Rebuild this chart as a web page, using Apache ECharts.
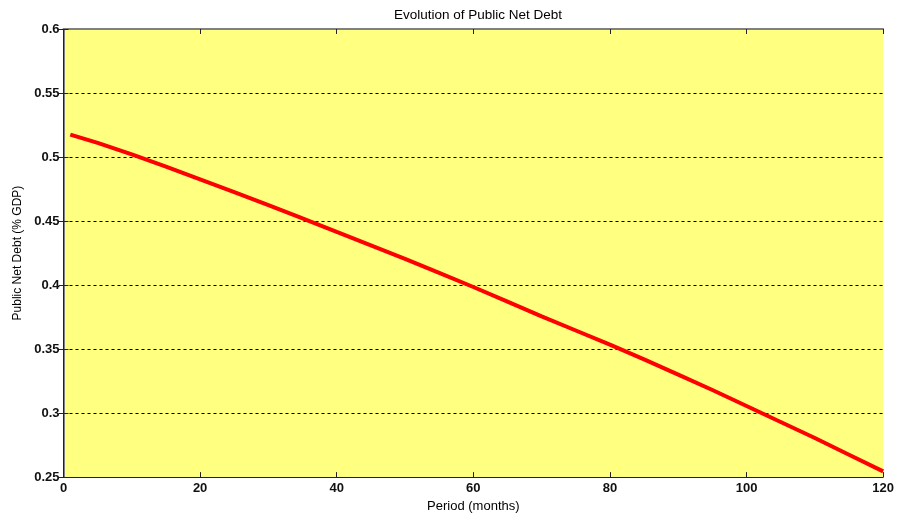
<!DOCTYPE html>
<html>
<head>
<meta charset="utf-8">
<script src="https://cdn.jsdelivr.net/npm/echarts@6/dist/echarts.min.js"></script>
<style>html,body{margin:0;padding:0;background:#fff;}#c{width:897px;height:518px;}</style>
</head>
<body>
<div id="c"></div>
<script>
var periods = [1, 5, 10, 15, 20, 25, 30, 35, 36, 40, 45, 50, 55, 60, 65, 70, 75, 80, 85, 90, 95, 100, 105, 110, 115, 120];
var debt = [0.5175, 0.511, 0.502, 0.4925, 0.4825, 0.4725, 0.4625, 0.452, 0.450, 0.4415, 0.431, 0.4205, 0.4095, 0.3985, 0.387, 0.3755, 0.3645, 0.3535, 0.342, 0.330, 0.318, 0.3055, 0.293, 0.2805, 0.2675, 0.2545];
var xTicks = [0, 20, 40, 60, 80, 100, 120];
var yTicks = [0.25, 0.3, 0.35, 0.4, 0.45, 0.5, 0.55, 0.6];

var chart = echarts.init(document.getElementById('c'), null, {renderer: 'canvas'});
var font = 'Liberation Sans, Arial, sans-serif';
var pts = periods.map(function (p, i) { return [p, debt[i]]; });
chart.setOption({
  animation: false,
  title: {
    text: 'Evolution of Public Net Debt',
    left: 473, top: 3, textAlign: 'center',
    textStyle: {fontFamily: font, fontSize: 13.5, fontWeight: 'normal', color: '#000'}
  },
  grid: {left: 63.5, right: 13, top: 29, bottom: 35, show: true, backgroundColor: '#FFFF80', borderWidth: 0},
  xAxis: [{
    type: 'value', min: 0, max: 120, interval: 20,
    name: 'Period (months)', nameLocation: 'middle', nameGap: 18,
    nameTextStyle: {fontFamily: font, fontSize: 13, color: '#000'},
    axisLine: {show: true, lineStyle: {color: '#222', width: 1}},
    axisTick: {show: true, inside: true, length: 5, lineStyle: {color: '#222'}},
    axisLabel: {fontFamily: font, fontSize: 13, fontWeight: 'bold', color: '#111', margin: 5,
      formatter: function (v) { return xTicks.indexOf(v) >= 0 ? String(v) : ''; }},
    splitLine: {show: false}
  }, {
    type: 'value', min: 0, max: 120, interval: 20, position: 'top',
    axisLine: {show: true, lineStyle: {color: '#808080', width: 2}},
    axisTick: {show: true, inside: true, length: 5, lineStyle: {color: '#222'}},
    axisLabel: {show: false}, splitLine: {show: false}
  }],
  yAxis: [{
    type: 'value', min: 0.25, max: 0.6, interval: 0.05,
    name: 'Public Net Debt (% GDP)', nameLocation: 'middle', nameGap: 39,
    nameTextStyle: {fontFamily: font, fontSize: 12, color: '#000'},
    axisLine: {show: true, lineStyle: {color: '#808080', width: 2}},
    axisTick: {show: true, inside: true, length: 5, lineStyle: {color: '#222'}},
    axisLabel: {fontFamily: font, fontSize: 13, fontWeight: 'bold', color: '#111', margin: 4,
      formatter: function (v) {
        var r = Math.round(v * 100) / 100;
        return yTicks.indexOf(r) >= 0 ? String(r) : '';
      }},
    splitLine: {show: true, lineStyle: {color: '#000', type: [3, 3], width: 1}}
  }, {
    type: 'value', min: 0.25, max: 0.6, interval: 0.05, position: 'right',
    axisLine: {show: true, lineStyle: {color: '#222', width: 1}},
    axisTick: {show: true, inside: true, length: 5, lineStyle: {color: '#222'}},
    axisLabel: {show: false}, splitLine: {show: false}
  }],
  series: [{
    type: 'line', data: pts, xAxisIndex: 0, yAxisIndex: 0,
    showSymbol: false, smooth: false,
    lineStyle: {color: '#FF0000', width: 4}
  }]
});
</script>
</body>
</html>
